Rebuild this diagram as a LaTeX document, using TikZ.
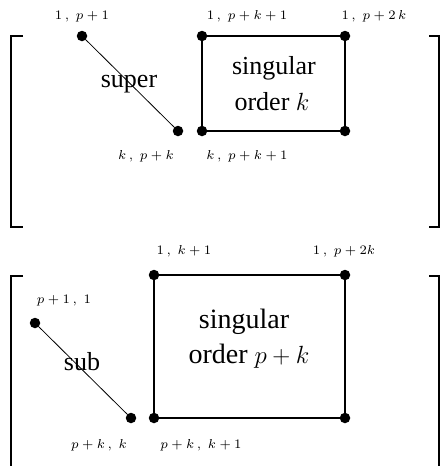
\documentclass[tikz,border=0pt]{standalone}
\usepackage[no-math]{fontspec}
\setmainfont{Liberation Serif}
\usetikzlibrary{positioning}
\newcommand\lbl[1]{\scalebox{1.85}{\scriptsize$#1$}}

\begin{document}
\begin{tikzpicture}[x=1pt,y=-1pt,
  dot/.style={circle,fill=black,inner sep=0pt,minimum size=10.5pt},
  lab/.style={anchor=base,inner sep=0pt},
  big/.style={anchor=base,inner sep=0pt,font=\fontsize{26}{30}\selectfont},
  bigger/.style={big,font=\fontsize{28}{32}\selectfont},
  edge/.style={line width=1.2pt},
  diag/.style={line width=0.8pt},
  brk/.style={line width=1.2pt}
]
\useasboundingbox (0,0) rectangle (442,466);
%% upper matrix
\draw[brk] (23,36) -- (11,36) -- (11,227) -- (23,227);
\draw[brk] (429,36) -- (439,36) -- (439,227) -- (429,227);
\node[dot] (a1) at (82,36) {};
\node[dot] (a2) at (178,131) {};
\node[dot] (r1) at (202,36) {};
\node[dot] (r2) at (345,36) {};
\node[dot] (r3) at (202,131) {};
\node[dot] (r4) at (345,131) {};
\draw[diag] (a1) -- (a2);
\draw[edge] (r1) -- (r2) -- (r4) -- (r3) -- (r1);
\node[lab] (la1) at (82,19) {\lbl{1\,,\;p+1}};
\node[lab] (lr1) at (247,19) {\lbl{1\,,\;p+k+1}};
\node[lab] (lr2) at (374,19) {\lbl{1\,,\;p+2\,k}};
\node[lab] (la2) at (146,159) {\lbl{k\,,\;p+k}};
\node[lab] (lr3) at (247,159) {\lbl{k\,,\;p+k+1}};
\node[big] (sup) at (129,87) {super};
\node[big] (sg1) at (274,74) {singular};
\node[big] (or1) at (272,110) {order $k$};
%% lower matrix
\draw[brk] (23,276) -- (11,276) -- (11,466);
\draw[brk] (429,276) -- (439,276) -- (439,466);
\node[dot] (b1) at (35,323) {};
\node[dot] (b2) at (131,418) {};
\node[dot] (s1) at (154,275) {};
\node[dot] (s2) at (345,275) {};
\node[dot] (s3) at (154,418) {};
\node[dot] (s4) at (345,418) {};
\draw[diag] (b1) -- (b2);
\draw[edge] (s1) -- (s2) -- (s4) -- (s3) -- (s1);
\node[lab] (ls1) at (184,254) {\lbl{1\,,\;k+1}};
\node[lab] (ls2) at (344,254) {\lbl{1\,,\;p+2k}};
\node[lab] (lb1) at (64,303) {\lbl{p+1\,,\;1}};
\node[lab] (lb2) at (99,448) {\lbl{p+k\,,\;k}};
\node[lab] (ls3) at (201,448) {\lbl{p+k\,,\;k+1}};
\node[big] (sb) at (82,370) {sub};
\node[bigger] (sg2) at (244,328) {singular};
\node[bigger] (or2) at (249,363) {order $p+k$};
\end{tikzpicture}
\end{document}
